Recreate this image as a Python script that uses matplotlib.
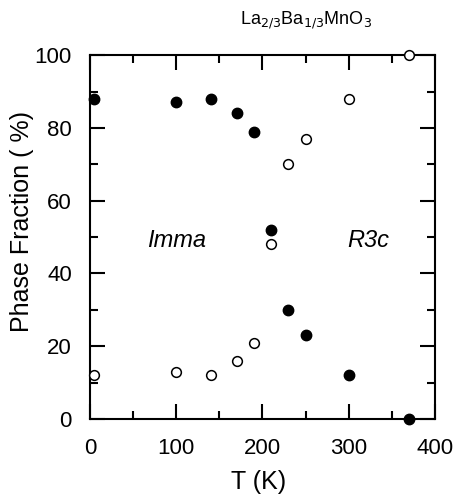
import matplotlib
matplotlib.use("Agg")
import matplotlib.pyplot as plt
from matplotlib.ticker import MultipleLocator

plt.rcParams['font.family'] = ['Liberation Sans', 'DejaVu Sans']

# Imma phase (filled) and R3c phase (open)
t_imma = [5, 100, 140, 170, 190, 210, 230, 250, 300, 370]
frac_imma = [88, 87, 88, 84, 79, 52, 30, 23, 12, 0]
t_r3c = [5, 100, 140, 170, 190, 210, 230, 250, 300, 370]
frac_r3c = [12, 13, 12, 16, 21, 48, 70, 77, 88, 100]

fig = plt.figure(figsize=(4.54, 4.97), dpi=100)
ax = fig.add_axes([0.198, 0.157, 0.760, 0.732])

ax.plot(t_imma, frac_imma, 'o', color='black', markersize=7.5, clip_on=False, zorder=3)
ax.plot(t_r3c, frac_r3c, 'o', markerfacecolor='white', markeredgecolor='black',
        markeredgewidth=1.1, markersize=7, clip_on=False, zorder=3)

ax.set_xlim(0, 400)
ax.set_ylim(0, 100)
ax.xaxis.set_major_locator(MultipleLocator(100))
ax.xaxis.set_minor_locator(MultipleLocator(50))
ax.yaxis.set_major_locator(MultipleLocator(20))
ax.yaxis.set_minor_locator(MultipleLocator(10))
ax.tick_params(which='both', direction='in', top=True, right=True, width=1.5, labelsize=16)
ax.tick_params(axis='x', pad=14)
ax.tick_params(axis='y', pad=13)
ax.tick_params(which='major', length=11)
ax.tick_params(which='minor', length=6)
for s in ax.spines.values():
    s.set_linewidth(1.5)

ax.text(100, 49, 'Imma', style='italic', fontsize=17, ha='center', va='center')
ax.text(323, 49, 'R3c', style='italic', fontsize=17, ha='center', va='center')

ax.set_xlabel('T (K)', fontsize=18)
ax.set_ylabel('Phase Fraction ( %)', fontsize=18)
ax.xaxis.set_label_coords(0.49, -0.173)
ax.xaxis.label.set_va('center')
ax.yaxis.set_label_coords(-0.197, 0.544)
ax.yaxis.label.set_va('center')
fig.text(0.675, 0.96, 'La$_{2/3}$Ba$_{1/3}$MnO$_3$', fontsize=13, ha='center', va='center')

fig.savefig('out.png', dpi=100)
